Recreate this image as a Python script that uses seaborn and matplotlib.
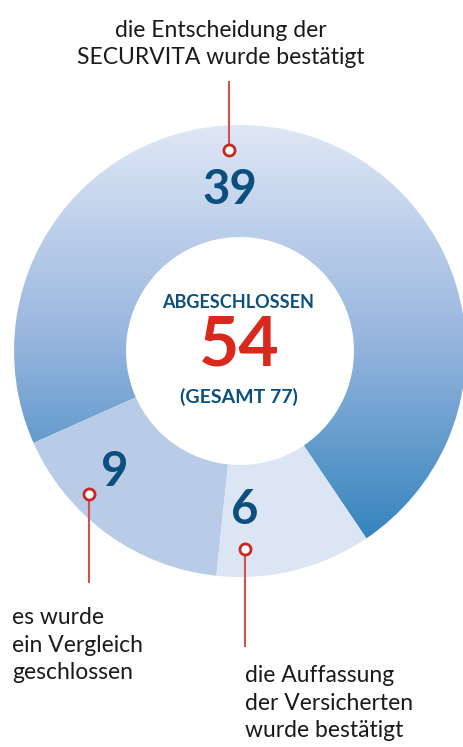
"""Donut chart: Schlichtungsverfahren, abgeschlossen 54 (gesamt 77)."""

import matplotlib

matplotlib.use("Agg")
import matplotlib.pyplot as plt
import numpy as np
import seaborn as sns

sns.set_theme(style="white")
plt.rcParams["font.family"] = ["Lato", "DejaVu Sans"]

# data ------------------------------------------------------------------- #
categories = [
    "die Entscheidung der\nSECURVITA wurde bestätigt",
    "es wurde\nein Vergleich\ngeschlossen",
    "die Auffassung\nder Versicherten\nwurde bestätigt",
]
values = [39, 9, 6]
closed_total = 54
overall_total = 77

BLUE_DARK = "#0b4f7f"
RED = "#d8291c"
LINE_RED = "#d0524a"
seg_colors = ["none", "#b8cce8", "#dce5f4"]
grad = sns.blend_palette(["#dfe7f5", "#9ab7df", "#3584bd"], as_cmap=True)

W, H = 464, 747
fig = plt.figure(figsize=(W / 100, H / 100), dpi=100)
ax = fig.add_axes([0, 0, 1, 1])


def Y(y):
    """pixel row (from top) -> data y (from bottom)"""
    return H - y


cx, cy, r_out, r_in = 240, 351, 226, 114
wedges, _ = ax.pie(
    values,
    center=(cx, Y(cy)),
    radius=r_out,
    startangle=-56,
    counterclock=True,
    colors=seg_colors,
    wedgeprops=dict(width=r_out - r_in, linewidth=0),
    frame=True,
)
ax.set_xlim(0, W)
ax.set_ylim(0, H)
ax.set_aspect("equal")
ax.axis("off")

# vertical gradient in the big segment (light top -> blue bottom)
top, bot = cy - r_out, cy + r_out
gy = np.clip(np.linspace(0, (bot - top) / (540 - top), 256), 0, 1).reshape(-1, 1)
im = ax.imshow(gy, cmap=grad, vmin=0, vmax=1,
               extent=[cx - r_out, cx + r_out, Y(bot), Y(top)],
               aspect="auto", zorder=0.5, interpolation="bilinear")
im.set_clip_path(wedges[0])

# centre text
ax.text(cx - 2, Y(303), "ABGESCHLOSSEN", ha="center", va="center",
        fontsize=13, fontweight="bold", color=BLUE_DARK)
ax.text(cx - 1, Y(346), str(closed_total), ha="center", va="center",
        fontsize=50, fontweight="bold", color=RED)
ax.text(cx - 1, Y(397), f"(GESAMT {overall_total})", ha="center",
        va="center", fontsize=14, fontweight="bold", color=BLUE_DARK)

# segment numbers
num_pos = [(230, 190), (115, 472), (245, 510)]
for v, (x, y) in zip(values, num_pos):
    ax.text(x, Y(y), str(v), ha="center", va="center", fontsize=34,
            fontweight="bold", color=BLUE_DARK)

# leader lines with open circles
leaders = [((229, 150), (229, 81)), ((89, 494), (89, 583)),
           ((245, 549), (245, 647))]
for (x0, y0), (x1, y1) in leaders:
    ax.plot([x0, x1], [Y(y0), Y(y1)], color=LINE_RED, lw=1.5,
            solid_capstyle="butt", zorder=3)
    ax.plot(x0, Y(y0), "o", ms=8, mfc="white", mec="#c8281e", mew=2, zorder=4)

# category texts
txt = dict(fontsize=16.5, color="#1a1a1a", linespacing=1.38)
ax.text(221, Y(44), categories[0], ha="center", va="center", **txt)
ax.text(12, Y(645), categories[1], ha="left", va="center", **txt)
ax.text(245, Y(703), categories[2], ha="left", va="center", **txt)

fig.savefig("out.png", dpi=100)
